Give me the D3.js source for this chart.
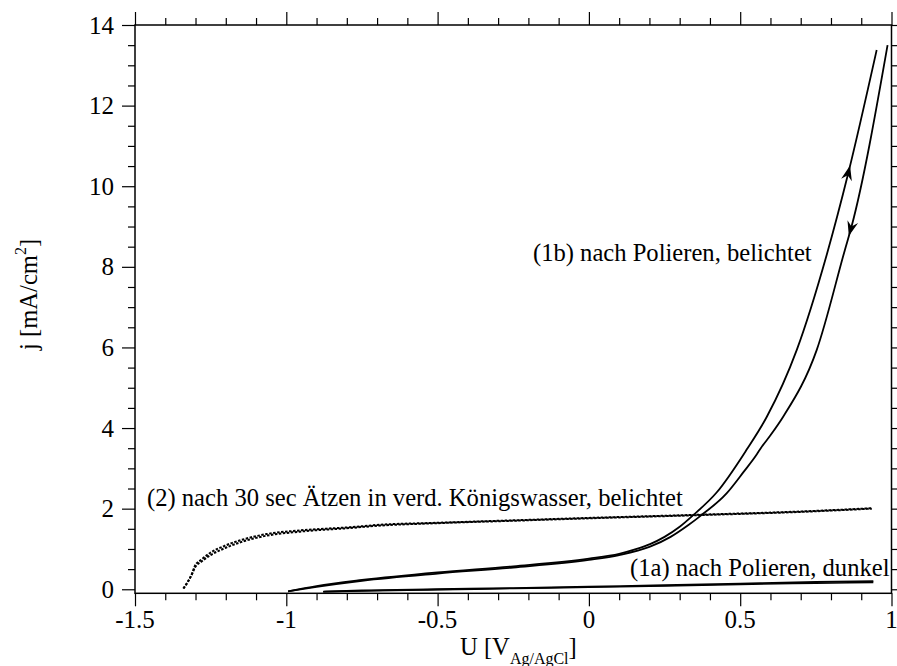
<!DOCTYPE html>
<html>
<head>
<meta charset="utf-8">
<title>j-U Kennlinien</title>
<script src="https://cdn.jsdelivr.net/npm/d3@7"></script>
<style>
  body { margin: 0; background: #fff; }
  svg { display: block; font-family: "Liberation Serif", "Times New Roman", serif; }
</style>
</head>
<body>
<script>
// (1b) belichtet, Hinlauf (oben/links) und Ruecklauf (rechts)
var u1bFwd = [-0.994, -0.9, -0.75, -0.5, -0.25, 0, 0.1, 0.158, 0.202, 0.25, 0.3, 0.345, 0.422, 0.521, 0.588, 0.687, 0.786, 0.857, 0.951];
var j1bFwd = [-0.05, 0.08, 0.23, 0.42, 0.57, 0.76, 0.88, 1.0, 1.12, 1.3, 1.55, 1.84, 2.4, 3.46, 4.28, 5.94, 8.3, 10.32, 13.38];
var u1bRev = [-0.994, -0.9, -0.75, -0.5, -0.25, 0, 0.1, 0.2, 0.27, 0.33, 0.372, 0.455, 0.51, 0.555, 0.568, 0.6, 0.642, 0.753, 0.846, 0.868, 0.987];
var j1bRev = [-0.05, 0.06, 0.21, 0.39, 0.54, 0.73, 0.85, 1.05, 1.3, 1.6, 1.84, 2.38, 2.9, 3.35, 3.5, 3.82, 4.28, 5.94, 8.42, 9.0, 13.5];

// (1a) dunkel
var u1aFwd = [-0.878, -0.75, -0.5, -0.25, 0, 0.25, 0.5, 0.75, 0.94];
var j1aFwd = [-0.06, -0.03, 0.0, 0.03, 0.065, 0.1, 0.14, 0.18, 0.2];
var u1aRev = [-0.878, -0.75, -0.5, -0.25, 0, 0.25, 0.5, 0.75, 0.94];
var j1aRev = [-0.06, -0.04, -0.01, 0.02, 0.05, 0.08, 0.12, 0.15, 0.17];

// (2) geaetzt, belichtet (gepunktet)
var u2Fwd = [-1.34, -1.31, -1.302, -1.28, -1.252, -1.2, -1.15, -1.065, -0.955, -0.789, -0.69, -0.5, -0.25, 0, 0.367, 0.7, 0.935];
var j2Fwd = [0.02, 0.42, 0.58, 0.74, 0.9, 1.09, 1.22, 1.37, 1.46, 1.54, 1.6, 1.65, 1.71, 1.77, 1.85, 1.93, 2.01];
var u2Rev = [-1.34, -1.31, -1.302, -1.28, -1.252, -1.2, -1.15, -1.065, -0.955, -0.789, -0.69, -0.5, -0.25, 0, 0.367, 0.7, 0.935];
var j2Rev = [0.02, 0.4, 0.54, 0.69, 0.84, 1.03, 1.17, 1.33, 1.43, 1.52, 1.58, 1.64, 1.7, 1.76, 1.84, 1.92, 2.0];

// Pfeile (Scanrichtung): U-Position der Spitze
var arrowU = [0.863, 0.859];
var arrowDir = [1, -1];

var xMajor = [-1.5, -1, -0.5, 0, 0.5, 1];
var xTickLabels = ["-1.5", "-1", "-0.5", "0", "0.5", "1"];
var yMajor = [0, 2, 4, 6, 8, 10, 12, 14];
var yTickLabels = ["0", "2", "4", "6", "8", "10", "12", "14"];

var labels = [
    {text: "(1b) nach Polieren, belichtet", x: 533, y: 261},
    {text: "(2) nach 30 sec \u00C4tzen in verd. K\u00F6nigswasser, belichtet", x: 147, y: 506},
    {text: "(1a) nach Polieren, dunkel", x: 630, y: 576}
];

var W = 897, H = 666;
var pLeft = 135, pRight = 891.5, pTop = 25, pBottom = 593.3;
var fs = 24.6;

var svg = d3.select('body').append('svg')
    .attr('width', W)
    .attr('height', H);

var x = d3.scaleLinear().domain([-1.5, 1]).range([pLeft, pRight]);
var y = d3.scaleLinear().domain([-0.1, 14]).range([pBottom, pTop]);

var xMinor = d3.range(-15, 11).map(function(d) { return d / 10; })
    .filter(function(d) { return xMajor.indexOf(d) < 0; });
var yMinor = d3.range(0, 29).map(function(d) { return d / 2; })
    .filter(function(d) { return yMajor.indexOf(d) < 0; });

function tickGroup(axisFn, scale, values, size, tx, ty) {
    var g = svg.append('g')
        .attr('transform', 'translate(' + tx + ',' + ty + ')')
        .call(axisFn(scale).tickValues(values).tickSize(size).tickSizeOuter(0).tickFormat(''));
    g.select('.domain').remove();
    g.selectAll('line').attr('stroke', '#000').attr('stroke-width', 1.2);
    return g;
}

// minor + major ticks on all four sides
tickGroup(d3.axisBottom, x, xMinor, 7, 0, pBottom);
tickGroup(d3.axisBottom, x, xMajor, 13, 0, pBottom);
tickGroup(d3.axisTop, x, xMinor, 7, 0, pTop);
tickGroup(d3.axisTop, x, xMajor, 13, 0, pTop);
tickGroup(d3.axisLeft, y, yMinor, 7, pLeft, 0);
tickGroup(d3.axisLeft, y, yMajor, 13, pLeft, 0);
tickGroup(d3.axisRight, y, yMinor, 7, pRight, 0);
tickGroup(d3.axisRight, y, yMajor, 13, pRight, 0);

// frame
svg.append('rect')
    .attr('x', pLeft).attr('y', pTop)
    .attr('width', pRight - pLeft).attr('height', pBottom - pTop)
    .attr('fill', 'none')
    .attr('stroke', '#000')
    .attr('stroke-width', 1.5);

// tick labels
svg.append('g').selectAll('text')
    .data(xMajor)
    .enter()
    .append('text')
    .attr('x', function(d) { return x(d); })
    .attr('y', 628)
    .attr('text-anchor', 'middle')
    .attr('font-size', 25)
    .text(function(d, i) { return xTickLabels[i]; });

svg.append('g').selectAll('text')
    .data(yMajor)
    .enter()
    .append('text')
    .attr('x', 114)
    .attr('y', function(d) { return y(d); })
    .attr('dy', '0.34em')
    .attr('text-anchor', 'end')
    .attr('font-size', 25)
    .text(function(d, i) { return yTickLabels[i]; });

// axis titles
var xt = svg.append('text')
    .attr('x', 460)
    .attr('y', 655)
    .attr('font-size', fs);
xt.append('tspan').text('U [V');
xt.append('tspan').attr('font-size', 16).attr('dy', 9).text('Ag/AgCl');
xt.append('tspan').attr('dy', -9).text(']');

var yt = svg.append('text')
    .attr('transform', 'translate(37,350) rotate(-90)')
    .attr('font-size', fs);
yt.append('tspan').text('j [mA/cm');
yt.append('tspan').attr('font-size', 16).attr('dy', -11).text('2');
yt.append('tspan').attr('dy', 11).text(']');

// curves
var line = d3.line()
    .x(function(d) { return x(d[0]); })
    .y(function(d) { return y(d[1]); })
    .curve(d3.curveMonotoneX);

function zip(u, j) {
    return u.map(function(d, i) { return [d, j[i]]; });
}

var series = [
    {d: zip(u1bFwd, j1bFwd), dash: null, w: 1.8},
    {d: zip(u1bRev, j1bRev), dash: null, w: 1.8},
    {d: zip(u1aFwd, j1aFwd), dash: null, w: 1.8},
    {d: zip(u1aRev, j1aRev), dash: null, w: 1.6},
    {d: zip(u2Fwd, j2Fwd), dash: '2.5,1.5', w: 2},
    {d: zip(u2Rev, j2Rev), dash: '2.5,1.5', w: 2}
];

svg.append('g').selectAll('path')
    .data(series)
    .enter()
    .append('path')
    .attr('d', function(s) { return line(s.d); })
    .attr('fill', 'none')
    .attr('stroke', '#000')
    .attr('stroke-width', function(s) { return s.w; })
    .attr('stroke-dasharray', function(s) { return s.dash; });

// arrowheads on (1b)
function jAt(u, us, js) {
    return d3.scaleLinear().domain(us).range(js)(u);
}
var arrowSeries = [[u1bFwd, j1bFwd], [u1bRev, j1bRev]];
arrowU.forEach(function(u, i) {
    var us = arrowSeries[i][0], js = arrowSeries[i][1];
    var u0 = u - 0.01 * arrowDir[i];
    var px = x(u), py = y(jAt(u, us, js));
    var qx = x(u0), qy = y(jAt(u0, us, js));
    var ang = Math.atan2(py - qy, px - qx) * 180 / Math.PI;
    svg.append('path')
        .attr('d', 'M0,0 L-15,-5.5 L-10,0 L-15,5.5 Z')
        .attr('transform', 'translate(' + px + ',' + py + ') rotate(' + ang + ')')
        .attr('fill', '#000');
});

// annotations
svg.append('g').selectAll('text')
    .data(labels)
    .enter()
    .append('text')
    .attr('x', function(d) { return d.x; })
    .attr('y', function(d) { return d.y; })
    .attr('font-size', fs)
    .text(function(d) { return d.text; });
</script>
</body>
</html>
